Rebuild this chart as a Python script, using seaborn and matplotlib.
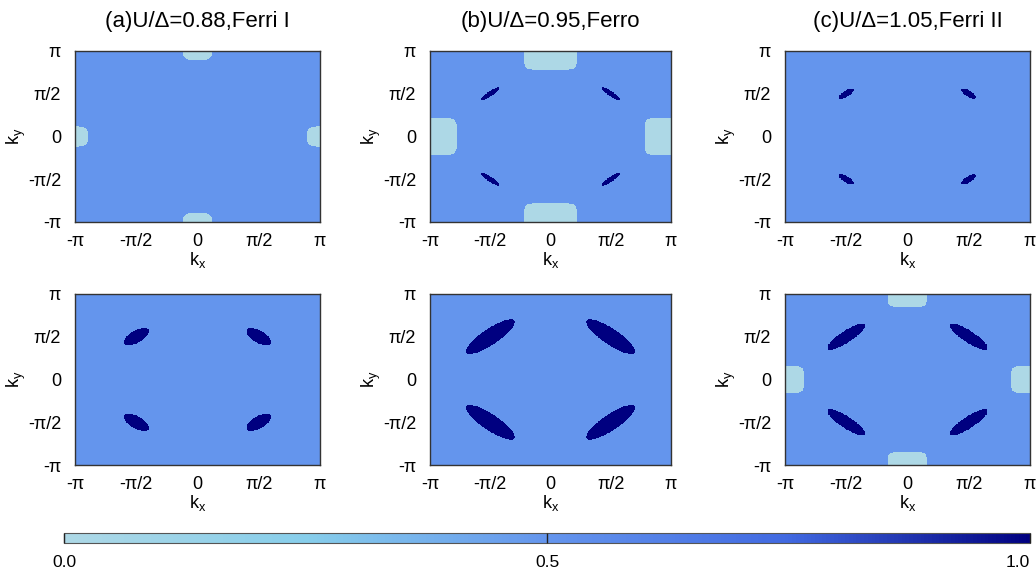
import matplotlib
matplotlib.use("Agg")
import numpy as np
import pandas as pd
import seaborn as sns
import matplotlib.pyplot as plt
from matplotlib.colors import LinearSegmentedColormap, Normalize
from matplotlib.cm import ScalarMappable

sns.set_theme(style="white")
plt.rcParams['font.family'] = ['Liberation Sans', 'DejaVu Sans']
plt.rcParams['mathtext.fontset'] = 'custom'
plt.rcParams['mathtext.rm'] = 'Liberation Sans'
plt.rcParams['mathtext.it'] = 'Liberation Sans'
plt.rcParams['mathtext.default'] = 'regular'
plt.rcParams['text.color'] = 'black'
plt.rcParams['axes.labelcolor'] = 'black'
plt.rcParams['xtick.color'] = 'black'
plt.rcParams['ytick.color'] = 'black'
plt.rcParams['xtick.bottom'] = True

# ---------------- data ----------------
titles = ["(a)U/Δ=0.88,Ferri I", "(b)U/Δ=0.95,Ferro", "(c)U/Δ=1.05,Ferri II"]
tick_labels = ["-π", "-π/2", "0", "π/2", "π"]
colorbar_ticks = [0.0, 0.5, 1.0]
colorbar_ticklabels = ["0.0", "0.5", "1.0"]
cmap_colors = ["#add8e6", "#87ceeb", "#6495ed", "#4169e1", "#000080"]

# occupation levels
occ_light, occ_mid, occ_dark = 0.0, 0.5, 1.0

# light patches centred at (0,±π) and (±π,0); sizes in units of π  [top row, bottom row]
patch_halfwidth = [[0.118, 0.22, 0.0], [0.0, 0.0, 0.16]]
patch_depth = [[0.106, 0.22, 0.0], [0.0, 0.0, 0.156]]
patch_power = [[3.5, 7, 0], [0, 0, 5]]

# dark pockets centred at (±π/2, ±π/2), elongated tangentially; semi-axes in units of π
pocket_center = 0.5
pocket_major = [[0.0, 0.103, 0.081], [0.13, 0.278, 0.207]]
pocket_minor = [[0.0, 0.025, 0.031], [0.062, 0.081, 0.06]]

# ---------------- grid ----------------
N = 400
edges = np.linspace(-1, 1, N + 1)
kc = (edges[:-1] + edges[1:]) / 2
KX, KY = np.meshgrid(kc, kc[::-1])


def occupation(r, c):
    Z = np.full(KX.shape, occ_mid)
    w, d, p = patch_halfwidth[r][c], patch_depth[r][c], patch_power[r][c]
    if w > 0:
        top = (np.abs(KX) / w) ** p + ((1 - np.abs(KY)) / d) ** p < 1
        side = (np.abs(KY) / w) ** p + ((1 - np.abs(KX)) / d) ** p < 1
        Z[top | side] = occ_light
    a, b = pocket_major[r][c], pocket_minor[r][c]
    if a > 0:
        for sx in (-1, 1):
            for sy in (-1, 1):
                dx = KX - sx * pocket_center
                dy = KY - sy * pocket_center
                u = (dx * (-sy) + dy * sx) / np.sqrt(2)
                v = (dx * sx + dy * sy) / np.sqrt(2)
                Z[(u / a) ** 2 + (v / b) ** 2 < 1] = occ_dark
    return Z


cmap = LinearSegmentedColormap.from_list("occ", cmap_colors)

fig = plt.figure(figsize=(10.36, 5.76), dpi=100)
lefts = [0.0724, 0.4151, 0.7577]
widths = [0.2365, 0.2326, 0.2365]
bottoms = [0.6146, 0.1927]
height = 0.2969

for r in range(2):
    for c in range(3):
        ax = fig.add_axes([lefts[c], bottoms[r], widths[c], height])
        Z = occupation(r, c)
        sns.heatmap(pd.DataFrame(Z), ax=ax, cmap=cmap, vmin=0, vmax=1, cbar=False,
                    xticklabels=False, yticklabels=False, rasterized=True)
        ax.set_xticks(np.linspace(0, N, 5))
        ax.set_xticklabels(tick_labels, rotation=0)
        ax.set_yticks(np.linspace(0, N, 5))
        ax.set_yticklabels(tick_labels[::-1], rotation=0)
        ax.tick_params(axis='both', length=0, labelsize=13, colors='black')
        ax.tick_params(axis='x', pad=8)
        ax.tick_params(axis='y', pad=10)
        ax.set_xlabel("k$_x$", fontsize=13, labelpad=0, color='black')
        ax.set_ylabel("k$_y$", fontsize=13, labelpad=0, color='black')
        for sp in ax.spines.values():
            sp.set_visible(True)
            sp.set_color('#333333')
            sp.set_linewidth(1.0)
        if r == 0:
            ax.set_title(titles[c], fontsize=16, pad=17, color='black')

cax = fig.add_axes([0.0618, 0.0573, 0.9324, 0.0174])
sm = ScalarMappable(norm=Normalize(0, 1), cmap=cmap)
cb = fig.colorbar(sm, cax=cax, orientation='horizontal', ticks=colorbar_ticks)
cb.ax.set_xticklabels(colorbar_ticklabels)
cb.ax.xaxis.set_zorder(5)
cb.ax.tick_params(axis='x', which='major', bottom=True, direction='in', length=7.2,
                  width=1.0, color='#222222', labelsize=12.5, pad=9, labelcolor='black')
cb.outline.set_edgecolor('#555555')
cb.outline.set_linewidth(0.8)
labs = cb.ax.get_xticklabels()
labs[-1].set_horizontalalignment('right')

fig.savefig("out.png", dpi=100)
